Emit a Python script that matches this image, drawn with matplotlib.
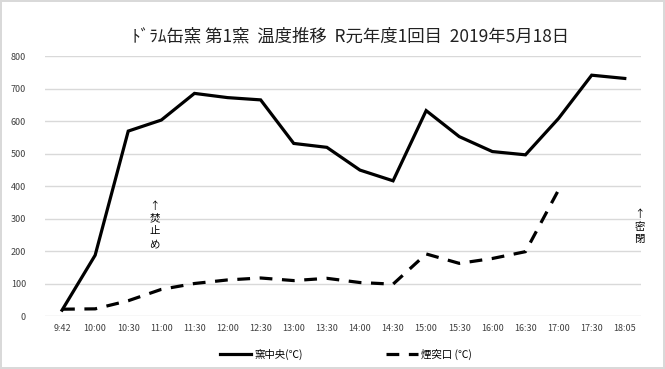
import matplotlib
matplotlib.use("Agg")
import matplotlib.pyplot as plt

plt.rcParams['font.family'] = ['Noto Sans CJK JP', 'DejaVu Sans']

times = ['9:42', '10:00', '10:30', '11:00', '11:30', '12:00', '12:30', '13:00', '13:30',
         '14:00', '14:30', '15:00', '15:30', '16:00', '16:30', '17:00', '17:30', '18:05']
kama_center = [18, 187, 569, 603, 685, 672, 665, 531, 519, 449, 416, 632, 552, 506, 496, 608, 741, 731]
entotsu = [21, 22, 47, 82, 100, 111, 117, 109, 116, 103, 98, 191, 162, 177, 198, 388]
yticks = [0, 100, 200, 300, 400, 500, 600, 700, 800]

fig = plt.figure(figsize=(6.65, 3.69), dpi=100)
fig.patch.set_edgecolor('#d9d9d9')
fig.patch.set_linewidth(1.5)
ax = fig.add_axes([0.0684, 0.1436, 0.896, 0.7046])

x = list(range(len(times)))
ax.plot(x, kama_center, color='black', lw=2.3, solid_joinstyle='miter', label='窯中央(℃)')
ax.plot(x[:len(entotsu)], entotsu, color='black', lw=2.3, dashes=(4, 3), label='煙突口 (℃)')

ax.set_xlim(-0.5, len(times) - 0.5)
ax.set_ylim(0, 800)
ax.set_xticks(x)
ax.set_xticklabels(times)
ax.set_yticks(yticks)
ax.tick_params(axis='both', length=0, labelsize=6.5, colors='#404040', pad=6)
ax.tick_params(axis='y', pad=14)
for s in ax.spines.values():
    s.set_visible(False)
ax.grid(axis='y', color='#d9d9d9', lw=1)
ax.set_axisbelow(True)

# 注記（縦書き）
ax.text(2.8, 280, '↑\n焚\n止\nめ', ha='center', va='center', fontsize=7.5, linespacing=1.35)
ax.text(17.45, 275, '↑\n密\n閉', ha='center', va='center', fontsize=7.5, linespacing=1.35)

fig.suptitle('ﾄﾞﾗﾑ缶窯 第1窯  温度推移  R元年度1回目  2019年5月18日', x=0.527, y=0.925,
             fontsize=12.5, color='#222222')
fig.legend(loc='lower center', bbox_to_anchor=(0.52, 0.0), ncol=2, frameon=False,
           fontsize=7.5, handlelength=3.0, handletextpad=0.3, columnspacing=8)

fig.savefig('out.png', dpi=100)
